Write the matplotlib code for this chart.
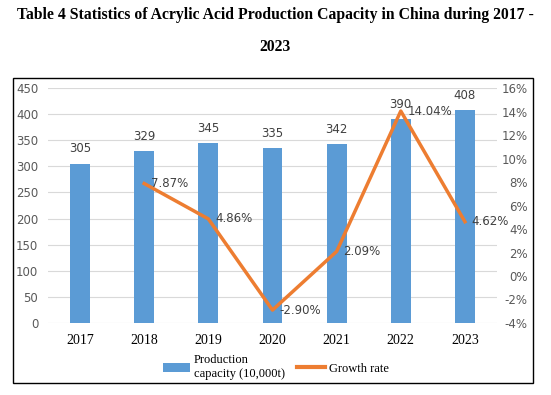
import numpy as np
import matplotlib
matplotlib.use("Agg")
import matplotlib.pyplot as plt
from matplotlib.patches import Rectangle, Patch
from matplotlib.lines import Line2D

# --- data ---
years = ["2017", "2018", "2019", "2020", "2021", "2022", "2023"]
capacity = [305, 329, 345, 335, 342, 390, 408]
growth_years = ["2018", "2019", "2020", "2021", "2022", "2023"]
growth = [7.87, 4.86, -2.90, 2.09, 14.04, 4.62]

BLUE = "#5B9BD5"
ORANGE = "#ED7D31"
GRID = "#D9D9D9"
TXT = "#404040"

fig = plt.figure(figsize=(5.51, 3.95), dpi=100)
W, H = 551, 395

# outer frame around chart
fig.patches.append(Rectangle((13 / W, 1 - 383 / H), (533 - 13) / W, (383 - 78) / H,
                             transform=fig.transFigure, fill=False,
                             edgecolor="black", linewidth=1.0))

fig.text(0.5, 1 - 15 / H,
         "Table 4 Statistics of Acrylic Acid Production Capacity in China during 2017 -",
         ha="center", va="center", family="Liberation Serif", weight="bold", fontsize=11.3)
fig.text(0.5, 1 - 47 / H, "2023", ha="center", va="center",
         family="Liberation Serif", weight="bold", fontsize=11.3)

ax = fig.add_axes([48 / W, 1 - 323 / H, (497 - 48) / W, (323 - 88) / H])
x = np.arange(len(years))
ax.bar(x, capacity, width=0.31, color=BLUE, zorder=2)
ax.set_ylim(0, 450)
ax.set_yticks(np.arange(0, 451, 50))
ax.set_xlim(-0.5, len(years) - 0.5)
ax.set_xticks(x)
ax.set_xticklabels(years, family="Liberation Serif", fontsize=10, color="black")
ax.grid(axis="y", color=GRID, linewidth=0.8, zorder=0)
ax.tick_params(axis="y", length=0, labelsize=8.5, labelcolor="#595959", pad=7)
ax.tick_params(axis="x", length=0, pad=8)
for s in ax.spines.values():
    s.set_visible(False)
for xi, v in zip(x, capacity):
    ax.annotate(str(v), (xi, v), xytext=(0, 6), textcoords="offset points",
                ha="center", va="bottom", fontsize=8.5, color=TXT)

ax2 = ax.twinx()
gx = [years.index(y) for y in growth_years]
ax2.plot(gx, growth, color=ORANGE, linewidth=2.5, zorder=3)
ax2.set_ylim(-4, 16)
ax2.set_yticks(np.arange(-4, 17, 2))
ax2.set_yticklabels([f"{t}%" for t in range(-4, 17, 2)])
ax2.tick_params(axis="y", length=0, labelsize=8.5, labelcolor="#595959", pad=22)
for lab in ax2.get_yticklabels():
    lab.set_ha("right")
for s in ax2.spines.values():
    s.set_visible(False)
for xi, v in zip(gx, growth):
    ax2.annotate(f"{v:.2f}%", (xi, v), xytext=(5, 0), textcoords="offset points",
                 ha="left", va="center", fontsize=8.5, color=TXT)

handles = [Patch(facecolor=BLUE), Line2D([], [], color=ORANGE, linewidth=3)]
labels = ["Production\ncapacity (10,000t)", "Growth rate"]
fig.legend(handles, labels, loc="center", bbox_to_anchor=(0.5, 1 - 367 / H), ncol=2,
           frameon=False, prop={"family": "Liberation Serif", "size": 9},
           handlelength=2.2, handletextpad=0.3, columnspacing=1.0)

fig.savefig("out.png", dpi=100)
